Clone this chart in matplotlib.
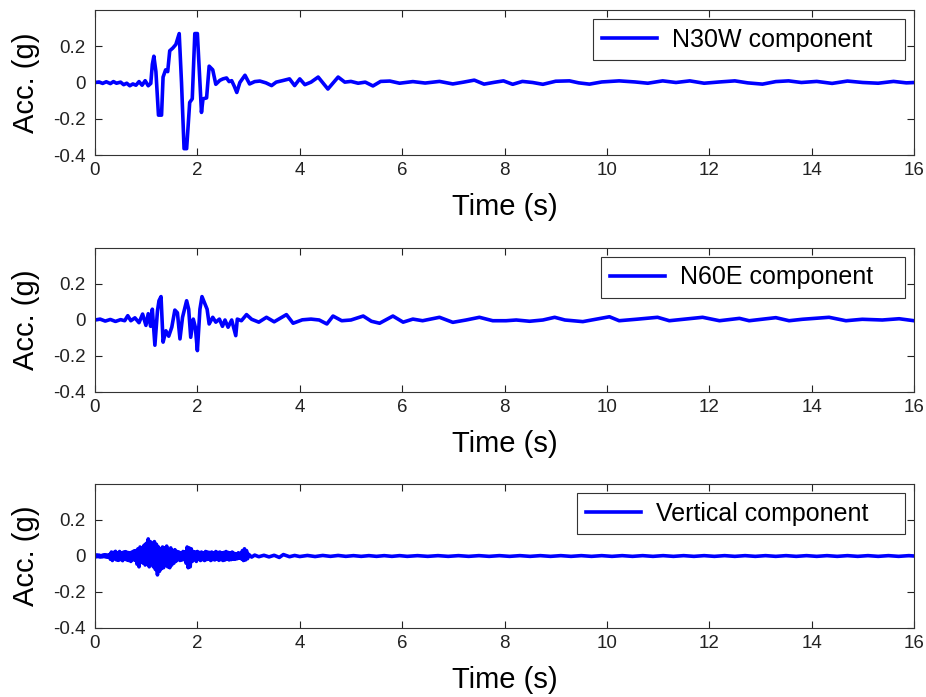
import numpy as np
import matplotlib
matplotlib.use("Agg")
import matplotlib.pyplot as plt

plt.rcParams['font.family'] = ['Liberation Sans', 'DejaVu Sans']

# ---------------- data ----------------
n30w_t = [0.00, 0.08, 0.15, 0.22, 0.30, 0.36, 0.42, 0.50, 0.56, 0.62, 0.68, 0.74,
          0.80, 0.86, 0.92, 0.98, 1.04, 1.09, 1.12, 1.15, 1.19, 1.24, 1.30, 1.33,
          1.38, 1.42, 1.46, 1.52, 1.58, 1.645, 1.69, 1.74, 1.79, 1.85, 1.90, 1.95,
          2.00, 2.05, 2.08, 2.11, 2.18, 2.23, 2.30, 2.36, 2.44, 2.50, 2.57, 2.62,
          2.67, 2.72, 2.77, 2.83, 2.93, 3.02, 3.12, 3.22, 3.34, 3.45, 3.54, 3.66,
          3.80, 3.90, 4.00, 4.10, 4.22, 4.36, 4.55, 4.75, 4.88, 5.00, 5.14, 5.28,
          5.43, 5.58, 5.76, 5.95, 6.21, 6.45, 6.73, 6.99, 7.20, 7.41, 7.60, 7.80,
          7.98, 8.16, 8.35, 8.55, 8.75, 9.00, 9.27, 9.45, 9.66, 9.90, 10.24, 10.55,
          10.80, 11.09, 11.35, 11.62, 11.90, 12.20, 12.50, 12.75, 13.04, 13.30,
          13.55, 13.80, 14.10, 14.40, 14.70, 15.00, 15.30, 15.60, 15.85, 16.00]
n30w_v = [0.000, 0.003, -0.005, 0.004, -0.006, 0.005, -0.004, 0.002, -0.012, -0.004,
          -0.018, -0.008, -0.015, 0.005, -0.015, 0.010, -0.018, -0.005, 0.100, 0.145,
          0.060, -0.180, -0.180, 0.030, 0.070, 0.060, 0.175, 0.190, 0.210, 0.270,
          0.000, -0.365, -0.365, -0.110, -0.090, 0.270, 0.270, 0.000, -0.165, -0.090,
          -0.085, 0.090, 0.070, -0.010, 0.012, 0.020, 0.025, 0.005, 0.010, -0.020,
          -0.055, 0.000, 0.040, -0.008, 0.005, 0.008, -0.002, -0.017, 0.002, 0.010,
          0.020, -0.017, 0.020, -0.012, 0.002, 0.030, -0.036, 0.030, 0.002, 0.006,
          -0.004, 0.002, -0.019, 0.006, 0.008, -0.004, 0.005, -0.003, 0.006, -0.008,
          0.002, 0.013, -0.009, 0.001, 0.009, -0.010, 0.006, 0.000, -0.010, 0.007,
          0.009, -0.002, -0.009, 0.003, 0.009, 0.003, -0.004, 0.009, 0.000, 0.009,
          -0.004, 0.003, 0.009, -0.002, -0.009, 0.005, 0.009, 0.000, 0.006, -0.005,
          0.008, 0.000, -0.004, 0.006, -0.002, 0.000]

n60e_t = [0.00, 0.10, 0.20, 0.30, 0.40, 0.50, 0.58, 0.64, 0.70, 0.78, 0.86, 0.93,
          0.995, 1.04, 1.086, 1.12, 1.17, 1.22, 1.25, 1.29, 1.33, 1.385, 1.44,
          1.50, 1.56, 1.61, 1.66, 1.71, 1.79, 1.83, 1.87, 1.92, 1.96, 2.00, 2.05,
          2.09, 2.15, 2.19, 2.23, 2.30, 2.36, 2.43, 2.49, 2.54, 2.60, 2.67, 2.75,
          2.78, 2.86, 2.96, 3.06, 3.20, 3.35, 3.50, 3.74, 3.87, 4.05, 4.22, 4.38,
          4.53, 4.65, 4.82, 5.00, 5.24, 5.40, 5.56, 5.82, 6.02, 6.21, 6.40, 6.73,
          6.99, 7.25, 7.51, 7.77, 8.03, 8.23, 8.49, 8.75, 8.98, 9.18, 9.53, 10.05,
          10.24, 10.57, 10.99, 11.22, 11.87, 12.20, 12.59, 12.78, 13.30, 13.56,
          13.82, 14.34, 14.67, 14.99, 15.38, 15.71, 16.00]
n60e_v = [0.000, 0.005, -0.006, 0.003, -0.008, 0.002, -0.004, 0.024, -0.004, 0.012,
          -0.015, 0.033, -0.030, 0.035, -0.035, 0.060, -0.140, 0.050, 0.107, 0.130,
          -0.123, -0.060, -0.090, -0.040, 0.055, 0.040, -0.105, 0.015, 0.107, 0.060,
          -0.096, 0.005, -0.040, -0.170, 0.060, 0.130, 0.088, 0.060, -0.022, 0.015,
          -0.012, 0.005, -0.035, 0.000, -0.040, 0.000, -0.087, 0.005, -0.004, 0.030,
          0.004, -0.012, 0.015, -0.010, 0.030, -0.018, 0.001, 0.005, 0.000, -0.022,
          0.022, -0.004, 0.000, 0.022, -0.007, -0.018, 0.022, -0.012, 0.005, -0.004,
          0.015, -0.013, 0.000, 0.015, -0.004, -0.004, 0.000, -0.007, 0.000, 0.015,
          0.000, -0.009, 0.018, -0.004, 0.004, 0.015, -0.004, 0.015, -0.004, 0.009,
          -0.004, 0.013, -0.004, 0.004, 0.015, -0.004, 0.004, 0.000, 0.007, -0.004]

vert_dt = 0.02
vert_active_v = [
    0.004, -0.005, 0.006, -0.004, 0.005, -0.006, 0.003, -0.005, 0.006, -0.004,
    0.007, -0.006, 0.005, -0.007, 0.008,
    -0.018, 0.022, -0.025, 0.020, -0.015, 0.026, -0.022, 0.018, -0.024, 0.025,
    -0.020, 0.016, -0.026, 0.022, -0.018, 0.024, -0.022, 0.020, -0.025, 0.018,
    -0.030, 0.022, -0.020, 0.028, -0.024,
    0.030, -0.045, 0.040, -0.060, 0.050, -0.035, 0.045, -0.040, 0.060,
    -0.050, 0.070, -0.045, 0.095, -0.060, 0.080, -0.040,
    0.070, -0.060, 0.080, -0.075, 0.065, -0.105, 0.050, -0.085, 0.040, -0.070,
    0.050, -0.065, 0.045, -0.040, 0.055, -0.060, 0.035, -0.065, 0.045, -0.050,
    0.030, -0.040, 0.035, -0.030,
    0.025, -0.020, 0.022, -0.025, 0.018, -0.022, 0.025, -0.020, 0.022,
    -0.040, 0.050, -0.065, 0.045, -0.060, 0.040, -0.030,
    0.025, -0.020, 0.022, -0.030, 0.025, -0.018, 0.020, -0.025, 0.022, -0.020,
    0.018, -0.025, 0.025, -0.020, 0.022, -0.018, 0.020, -0.025, 0.022, -0.020,
    0.018, -0.022, 0.025, -0.018, 0.020, -0.024, 0.022, -0.020, 0.018, -0.025,
    0.020, -0.022, 0.025, -0.018, 0.020, -0.022, 0.018, -0.020, 0.022, -0.018,
    0.015, -0.018, 0.012, -0.015, 0.018, -0.012, 0.015, -0.016,
    0.030, -0.025, 0.040, -0.022, 0.030, -0.015, 0.010]
vert_tail_t = [3.06, 3.12, 3.20, 3.30, 3.40, 3.50, 3.60, 3.68, 3.80, 3.90, 4.00, 4.15,
               4.30, 4.45, 4.60, 4.75, 4.90, 5.05, 5.20, 5.35, 5.50, 5.65, 5.80, 5.95,
               6.10, 6.30, 6.50, 6.70, 6.90, 7.10, 7.30, 7.50, 7.70, 7.90, 8.10, 8.30,
               8.50, 8.70, 8.90, 9.10, 9.30, 9.50, 9.70, 9.90, 10.10, 10.30, 10.50,
               10.70, 10.90, 11.10, 11.30, 11.50, 11.70, 11.90, 12.10, 12.30, 12.50,
               12.70, 12.90, 13.10, 13.30, 13.50, 13.70, 13.90, 14.10, 14.30, 14.50,
               14.70, 14.90, 15.10, 15.30, 15.50, 15.70, 15.90, 16.00]
vert_tail_v = [-0.006, 0.005, -0.004, 0.004, -0.005, 0.004, -0.008, 0.008, -0.004,
               0.003, -0.003, 0.003, -0.003, 0.003, -0.002, 0.003, -0.002, 0.002,
               -0.002, 0.002, -0.002, 0.002, -0.002, 0.002, -0.002, 0.002, -0.002,
               0.002, -0.002, 0.002, -0.002, 0.002, -0.002, 0.002, -0.002, 0.002,
               -0.002, 0.002, -0.002, 0.002, -0.002, 0.002, -0.002, 0.002, -0.002,
               0.002, -0.002, 0.002, -0.002, 0.002, -0.002, 0.002, -0.002, 0.002,
               -0.002, 0.002, -0.002, 0.002, -0.002, 0.002, -0.002, 0.002, -0.002,
               0.002, -0.002, 0.002, -0.002, 0.002, -0.002, 0.002, -0.002, 0.002,
               -0.002, 0.002, 0.000]
vert_t = list(np.arange(len(vert_active_v)) * vert_dt) + vert_tail_t
vert_v = vert_active_v + vert_tail_v

series = [(n30w_t, n30w_v, "N30W component"),
          (n60e_t, n60e_v, "N60E component"),
          (vert_t, vert_v, "Vertical component")]

x_ticks = [0, 2, 4, 6, 8, 10, 12, 14, 16]
y_ticks = [-0.4, -0.2, 0, 0.2]
y_tick_labels = ["-0.4", "-0.2", "0", "0.2"]
x_label = "Time (s)"
y_label = "Acc. (g)"

# ---------------- layout ----------------
W, H = 926, 697
fig = plt.figure(figsize=(W / 100, H / 100), dpi=100)
ax_px = [(10, 155), (248, 392), (484, 628)]   # (top, bottom) in pixels
left_px, right_px = 95, 914
legend_left_px = [593, 601, 577]
legend_right_px = 905
legend_top_off = 9

for (top, bot), (t, v, lab), lleft in zip(ax_px, series, legend_left_px):
    ax = fig.add_axes([left_px / W, 1 - bot / H, (right_px - left_px) / W, (bot - top) / H])
    ax.plot(t, v, color='#0000ff', lw=2.6, label=lab)
    ax.set_xlim(0, 16)
    ax.set_ylim(-0.4, 0.4)
    ax.set_xticks(x_ticks)
    ax.set_yticks(y_ticks)
    ax.set_yticklabels(y_tick_labels)
    ax.tick_params(direction='in', top=True, right=True, length=5, width=0.8,
                   labelsize=13.5, colors='#222222')
    ax.tick_params(axis='y', pad=7)
    ax.tick_params(axis='x', pad=5)
    for s in ax.spines.values():
        s.set_linewidth(0.8)
        s.set_color('#333333')
    ax.set_xlabel(x_label, fontsize=21, labelpad=10)
    ax.set_ylabel(y_label, fontsize=21, labelpad=9)
    axw = right_px - left_px
    axh = bot - top
    x0 = (lleft - left_px) / axw
    x1 = (legend_right_px - left_px) / axw
    y1 = 1 - legend_top_off / axh
    leg = ax.legend(loc='upper right', bbox_to_anchor=(x0, y1 - 0.5, x1 - x0, 0.5),
                    mode='expand', borderaxespad=0, fontsize=18, frameon=True,
                    fancybox=False, framealpha=1, edgecolor='#333333',
                    handlelength=2.2, handletextpad=0.6, borderpad=0.34)
    leg.get_frame().set_linewidth(0.8)

fig.savefig("out.png", dpi=100)
